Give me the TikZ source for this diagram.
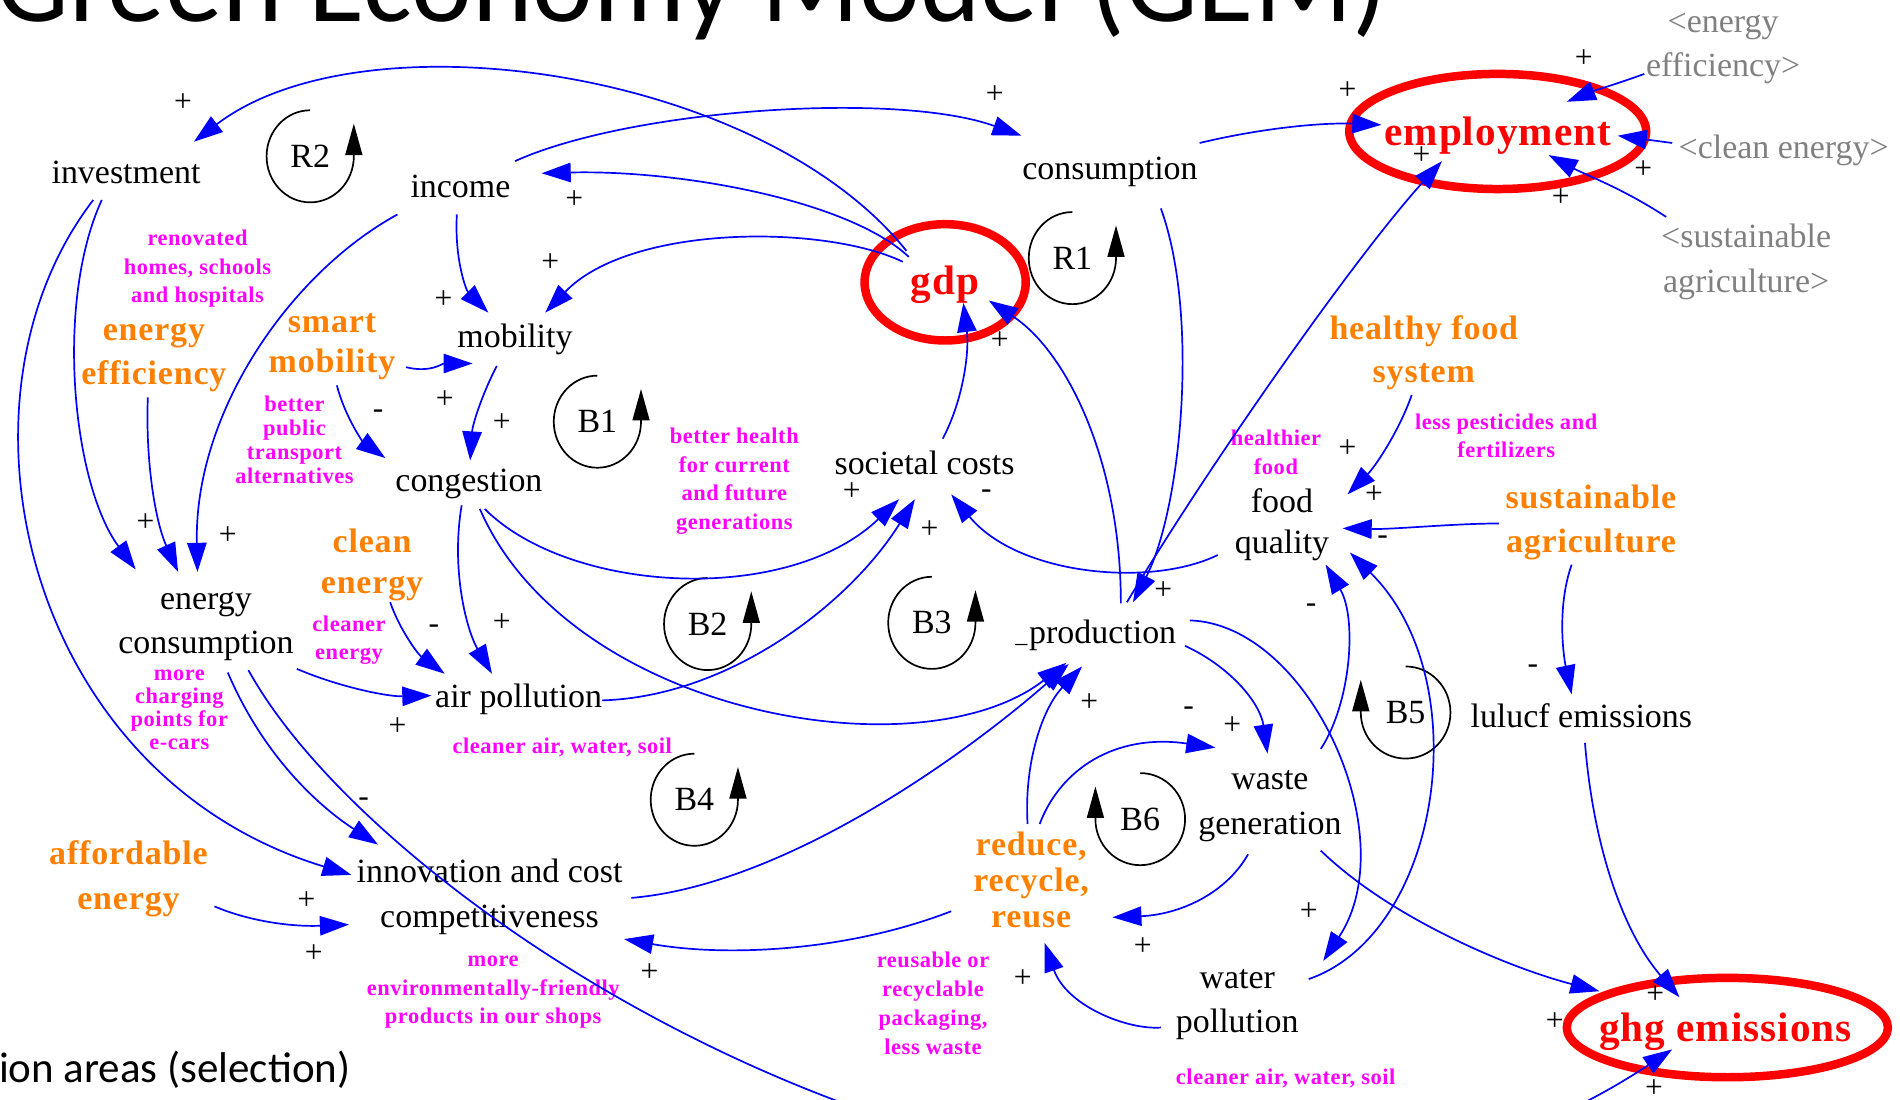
\documentclass[tikz,border=0pt]{standalone}
\usepackage{fontspec}
\setmainfont{Liberation Serif}
\newfontfamily\calib{Carlito}
\newfontfamily\spc{Liberation Serif}[LetterSpace=2.5]
\usetikzlibrary{arrows.meta,calc,shapes.geometric}
\definecolor{orng}{RGB}{255,128,0}
\definecolor{mgt}{RGB}{255,0,255}
\definecolor{shd}{RGB}{128,128,128}
\definecolor{arrblue}{RGB}{0,0,255}
\newcommand\fsz[2]{\fontsize{#1}{#2}\selectfont}
\newcommand\rloop[3]{%
  \node[lp] (#1) at #2 {#3};
  \draw[looparc] ($(#1)+(0,-38)$) arc[start angle=-90, end angle=-360, x radius=36, y radius=38] -- ++(0,-27);}
\newcommand\lloop[3]{%
  \node[lp] (#1) at #2 {#3};
  \draw[looparc] ($(#1)+(0,-38)$) arc[start angle=-90, end angle=180, x radius=37, y radius=38] -- ++(0,-27);}
\begin{document}
\begin{tikzpicture}[x=1pt,y=-1pt,
  var/.style={font=\fsz{28}{37}, align=center, inner sep=0pt},
  keyv/.style={font=\spc\bfseries\fsz{34}{40}, text=red, inner sep=0pt, text depth=0pt},
  ring/.style={draw=red, line width=7pt},
  act/.style={font=\spc\bfseries\fsz{28}{37}, text=orng, align=center, inner sep=0pt},
  note/.style={text=mgt, align=center, inner sep=0pt},
  shadow/.style={font=\fsz{28}{37}, text=shd, align=center, inner sep=0pt},
  sgn/.style={font=\fsz{26}{26}, inner sep=0pt},
  lp/.style={font=\fsz{28}{28}, inner sep=0pt},
  arr/.style={draw=arrblue, line width=1.4pt, -{Triangle[length=24pt,width=16pt]}},
  looparc/.style={draw=black, line width=1.4pt, -{Triangle[length=26pt,width=14pt]}},
]
\useasboundingbox (0,0) rectangle (1568,907);

% titles
\node[font=\calib\fsz{95}{95}, anchor=base west, inner sep=0pt] (title) at (-3,18) {Green Economy Model (GEM)};
\node[font=\calib\fsz{35.5}{35.5}, anchor=base west, inner sep=0pt] (sel) at (-1,893) {ion areas (selection)};

% key variables with red rings
\node[keyv] (emp) at (1236,108) {employment};
\node[keyv] (gdp) at (780,231) {gdp};
\node[keyv] (ghg) at (1424,848) {ghg emissions};
\draw[ring] ($(emp)+(0,0.5)$) ellipse[x radius=122.5, y radius=47.5];
\draw[ring] ($(gdp)+(0,2)$) ellipse[x radius=66.5, y radius=48];
\draw[ring] ($(ghg)+(1.5,0)$) ellipse[x radius=132.5, y radius=41];

% variables
\node[var] (inv) at (104,142) {investment};
\node[var] (inc) at (380,154) {income};
\node[var] (cons) at (916,142) {consumption};
\node[var] (mob) at (425,280) {mobility};
\node[var] (cong) at (387,399) {congestion};
\node[var] (soc) at (763,382) {societal costs};
\node[var] (prod) at (910,524) {production};
\node[font=\fsz{20}{20}, anchor=base, inner sep=0pt] (usc) at (843,530) {\_};
\node[var, font=\fsz{28}{34}] (fq) at (1058,433) {food\\quality};
\node[var] (ec) at (170,517) {energy\\consumption};
\node[var] (ap) at (428,577) {air pollution};
\node[var] (wg) at (1048,665) {waste\\generation};
\node[var] (lul) at (1305,591) {lulucf emissions};
\node[var] (inn) at (404,740) {innovation and cost\\competitiveness};
\node[var] (wp) at (1021,829) {water\\pollution};

% action areas
\node[act] (ee) at (127,295) {energy\\efficiency};
\node[act, font=\spc\bfseries\fsz{28}{33}] (sm) at (274,286) {smart\\mobility};
\node[act, font=\spc\bfseries\fsz{28}{34}] (ce) at (307,466) {clean\\energy};
\node[act, font=\spc\bfseries\fsz{28}{36}] (hfs) at (1175,291) {healthy food\\system};
\node[act, font=\spc\bfseries\fsz{28}{36}] (sa) at (1313,431) {sustainable\\agriculture};
\node[act] (ae) at (106,725) {affordable\\energy};
\node[act, font=\spc\bfseries\fsz{28}{29.5}] (rrr) at (851,726) {reduce,\\recycle,\\reuse};

% notes
\node[note, font=\spc\bfseries\fsz{18.5}{23.5}] (n1) at (163,222) {renovated\\homes, schools\\and hospitals};
\node[note, font=\spc\bfseries\fsz{18.5}{20}] (n2) at (243,363) {better\\public\\transport\\alternatives};
\node[note, font=\spc\bfseries\fsz{18.5}{23.7}] (n3) at (606,397) {better health\\for current\\and future\\generations};
\node[note, font=\spc\bfseries\fsz{18.5}{24}] (n4) at (1053,373) {healthier\\food};
\node[note, font=\spc\bfseries\fsz{18.5}{23}] (n5) at (1243,360) {less pesticides and\\fertilizers};
\node[note, font=\spc\bfseries\fsz{18.5}{19}] (n6) at (148,586) {more\\charging\\points for\\e-cars};
\node[note, font=\spc\bfseries\fsz{18.5}{23}] (n7) at (288,528) {cleaner\\energy};
\node[note, font=\spc\bfseries\fsz{18.5}{23}] (n8) at (464,617) {cleaner air, water, soil};
\node[note, font=\spc\bfseries\fsz{18.5}{23.5}] (n9) at (407,819) {more\\environmentally-friendly\\products in our shops};
\node[note, font=\spc\bfseries\fsz{18.5}{23.7}] (n10) at (770,828) {reusable or\\recyclable\\packaging,\\less waste};
\node[note, font=\spc\bfseries\fsz{18.5}{23}] (n11) at (1061,890) {cleaner air, water, soil};

% shadow variables
\node[shadow] (see) at (1422,40) {<energy\\efficiency>};
\node[shadow] (sce) at (1472,124) {<clean energy>};
\node[shadow] (ssa) at (1441,216) {<sustainable\\agriculture>};

% loops
\rloop{R2}{(256,129)}{R2}
\rloop{R1}{(885,213)}{R1}
\rloop{B1}{(493,348)}{B1}
\rloop{B2}{(584,515)}{B2}
\rloop{B3}{(769,514)}{B3}
\rloop{B4}{(573,660)}{B4}
\lloop{B5}{(1160,588)}{B5}
\lloop{B6}{(941,676)}{B6}

% connectors
\draw[arr] ($(gdp)+(-32,-24)$) .. controls +(-120,-150) and +(140,-107) .. ($(inv)+(56,-25)$);
\draw[arr] ($(inc)+(45,-21)$) .. controls +(95,-43) and +(-103,-37) .. ($(cons)+(-73,-30)$);
\draw[arr] ($(gdp)+(-30,-19)$) .. controls +(-50,-47) and +(113,-3) .. ($(inc)+(67,-11)$);
\draw[arr] ($(gdp)+(-35,-15)$) .. controls +(-65,-31) and +(70,-73) .. ($(mob)+(25,-22)$);
\draw[arr] ($(cons)+(74,-24)$) .. controls +(50,-12) and +(-50,-2) .. ($(emp)+(-96,-5)$);
\draw[arr] ($(cons)+(42,30)$) .. controls +(32,88) and +(40,-77) .. ($(prod)+(25,-27)$);
\draw[arr] ($(prod)+(20,-27)$) .. controls +(70,-117) and +(-70,77) .. ($(emp)+(-46,25)$);
\draw[arr] ($(prod)+(15,-26)$) .. controls +(0,-118) and +(64,42) .. ($(gdp)+(36,17)$);
\draw[arr] ($(soc)+(15,-20)$) .. controls +(17,-32) and +(5,40) .. ($(gdp)+(15,19)$);
\draw[arr] ($(inv)+(-20,23)$) .. controls +(-39,85) and +(-52,-70) .. ($(ec)+(-58,-47)$);
\draw[arr] ($(inv)+(-27,23)$) .. controls +(-127,165) and +(-270,-82) .. ($(inn)+(-114,-18)$);
\draw[arr] ($(ee)+(-5,33)$) .. controls +(-2,52) and +(-19,-42) .. ($(ec)+(-23,-45)$);
\draw[arr] ($(inc)+(-52,23)$) .. controls +(-88,48) and +(-3,-132) .. ($(ec)+(-7,-45)$);
\draw[arr] ($(inc)+(-3,23)$) .. controls +(-2,38) and +(-18,-18) .. ($(mob)+(-22,-22)$);
\draw[arr] ($(sm)+(61,17)$) .. controls +(20,5) and +(-25,0) .. ($(mob)+(-35,20)$);
\draw[arr] ($(sm)+(4,32)$) .. controls +(7,27) and +(-18,-13) .. ($(cong)+(-69,-21)$);
\draw[arr] ($(mob)+(-15,22)$) .. controls +(-12,23) and +(2,-30) .. ($(cong)+(1,-19)$);
\draw[arr] ($(cong)+(-6,18)$) .. controls +(-9,53) and +(-21,-36) .. ($(ap)+(-22,-21)$);
\draw[arr] ($(cong)+(13,21)$) .. controls +(70,70) and +(-92,88) .. ($(soc)+(-21,30)$);
\draw[arr] ($(ap)+(69,1)$) .. controls +(103,-3) and +(-55,88) .. ($(soc)+(-8,30)$);
\draw[arr] ($(cong)+(9,21)$) .. controls +(74,170) and +(-120,93) .. ($(prod)+(-30,23)$);
\draw[arr] ($(fq)+(-53,25)$) .. controls +(-55,27) and +(55,67) .. ($(soc)+(22,26)$);
\draw[arr] ($(inn)+(117,1)$) .. controls +(129,-11) and +(-82,72) .. ($(prod)+(-28,24)$);
\draw[arr] ($(rrr)+(-3,-46)$) .. controls +(-3,-50) and +(-33,35) .. ($(prod)+(-17,26)$);
\draw[arr] ($(prod)+(68,9)$) .. controls +(37,17) and +(-6,-42) .. ($(wg)+(-2,-43)$);
\draw[arr] ($(prod)+(72,-12)$) .. controls +(98,3) and +(68,-103) .. ($(wp)+(71,-36)$);
\draw[arr] ($(wg)+(42,-47)$) .. controls +(25,-38) and +(26,44) .. ($(fq)+(36,33)$);
\draw[arr] ($(wp)+(59,-21)$) .. controls +(110,-38) and +(106,104) .. ($(fq)+(56,23)$);
\draw[arr] ($(hfs)+(-10,35)$) .. controls +(-10,29) and +(23,-23) .. ($(fq)+(54,-25)$);
\draw[arr] ($(sa)+(-76,1)$) .. controls +(-37,0) and +(42,1) .. ($(fq)+(50,3)$);
\draw[arr] ($(sa)+(-16,35)$) .. controls +(-12,34) and +(-7,-33) .. ($(lul)+(-8,-18)$);
\draw[arr] ($(lul)+(3,22)$) .. controls +(7,87) and +(-46,-53) .. ($(ghg)+(-38,-25)$);
\draw[arr] ($(wg)+(42,37)$) .. controls +(60,58) and +(-70,-18) .. ($(ghg)+(-104,-30)$);
\draw[arr] ($(ec)+(35,36)$) .. controls +(125,227) and +(-430,284) .. ($(ghg)+(-44,18)$);
\draw[arr] ($(ec)+(18,38)$) .. controls +(32,75) and +(-42,-27) .. ($(inn)+(-92,-43)$);
\draw[arr] ($(ec)+(75,35)$) .. controls +(35,15) and +(-36,1) .. ($(ap)+(-72,-3)$);
\draw[arr] ($(ce)+(15,31)$) .. controls +(8,23) and +(-22,-16) .. ($(ap)+(-61,-21)$);
\draw[arr] ($(ae)+(71,23)$) .. controls +(28,12) and +(-48,2) .. ($(inn)+(-116,23)$);
\draw[arr] ($(rrr)+(-66,26)$) .. controls +(-85,33) and +(85,15) .. ($(inn)+(111,35)$);
\draw[arr] ($(rrr)+(7,-46)$) .. controls +(17,-45) and +(-83,-12) .. ($(wg)+(-45,-48)$);
\draw[arr] ($(wg)+(-18,40)$) .. controls +(-20,35) and +(52,-2) .. ($(rrr)+(67,31)$);
\draw[arr] ($(wp)+(-63,19)$) .. controls +(-28,2) and +(18,52) .. ($(rrr)+(11,52)$);
\draw[arr] ($(see)+(-65,21)$) .. controls +(-22,8) and +(22,-9) .. ($(emp)+(57,-24)$);
\draw[arr] ($(sce)+(-92,-6)$) -- ($(emp)+(99,4)$);
\draw[arr] ($(ssa)+(-66,-37)$) .. controls +(-35,-23) and +(32,17) .. ($(emp)+(42,20)$);

% polarity signs
\foreach \x/\y/\s [count=\i] in {151/85/+, 474/165/+, 821/78/+, 1112/75/+, 1307/48/+, 1173/128/+, 1356/140/+, 1288/163/+, 454/217/+, 366/247/+, 825/281/+, 312/342/-, 367/330/+, 414/349/+, 703/406/+, 814/408/-, 767/437/+, 1112/370/+, 1134/408/+, 1141/446/-, 120/431/+, 188/442/+, 358/519/-, 414/514/+, 328/600/+, 960/487/+, 1082/502/-, 899/580/+, 981/587/-, 1017/599/+, 1265/552/-, 300/662/-, 253/743/+, 259/787/+, 536/803/+, 844/808/+, 943/781/+, 1080/752/+, 1366/821/+, 1283/843/+, 1365/898/+}
  \node[sgn] (sg\i) at (\x,\y) {\s};
\end{tikzpicture}
\end{document}
